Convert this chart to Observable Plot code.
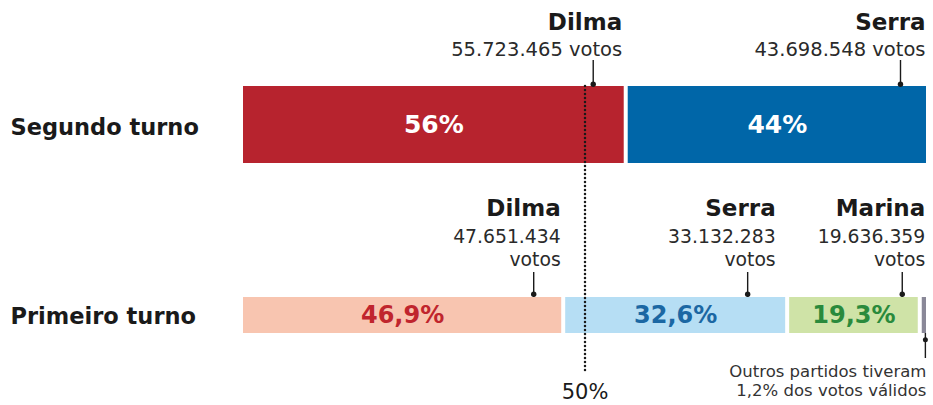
<!DOCTYPE html>
<html><head><meta charset="utf-8">
<script src="https://cdn.jsdelivr.net/npm/d3@7"></script>
<script src="https://cdn.jsdelivr.net/npm/@observablehq/plot@0.6"></script>
<style>body{margin:0;background:#fff} #chart svg{display:block;background:#fff}</style>
</head><body><div id="chart"></div>
<script>
// ---- data ----
const turnos = ["Segundo turno", "Primeiro turno"];
const candidatos2 = ["Dilma", "Serra"];
const percentual2 = [56, 44];
const rotulos2 = ["56%", "44%"];
const votos2 = ["55.723.465 votos", "43.698.548 votos"];
const candidatos1 = ["Dilma", "Serra", "Marina", "Outros"];
const percentual1 = [46.9, 32.6, 19.3, 1.2];
const rotulos1 = ["46,9%", "32,6%", "19,3%", ""];
const votos1 = ["47.651.434\nvotos", "33.132.283\nvotos", "19.636.359\nvotos", ""];
const referencia = [50];
const rotuloReferencia = "50%";
const notaOutros = "Outros partidos tiveram\n1,2% dos votos válidos";

// ---- build stacked rows ----
function build(turno, cands, pcts, labels, votos) {
  let acc = 0;
  return cands.map((c, i) => {
    const r = {turno, cand: c, pct: pcts[i], label: labels[i], votos: votos[i], x1: acc, x2: acc + pcts[i]};
    r.mid = (r.x1 + r.x2) / 2;
    acc += pcts[i];
    return r;
  });
}
const seg = build(turnos[0], candidatos2, percentual2, rotulos2, votos2);
const pri = build(turnos[1], candidatos1, percentual1, rotulos1, votos1);

// ---- styles ----
const fill2 = ["#b7232e", "#0066a8"];
const fill1 = ["#f8c5b0", "#b6def4", "#cfe3a7", "#8a8898"];
const txt1 = ["#c0252d", "#1b67a3", "#2a8a3c", "#000"];
const nameFont = "DejaVu Sans, sans-serif";
const numFont = "DejaVu Sans, sans-serif";
// label right-edge offsets and leader offsets (px from segment end)
const off2 = [{lab: -4, lead: -33}, {lab: -3, lead: -28}];
const off1 = [{lab: -3, lead: -30}, {lab: -12, lead: -40}, {lab: 5, lead: -18}];

const marks = [];
// bars
marks.push(Plot.barX(seg, {x1: "x1", x2: "x2", y: "turno", fill: (d, i) => fill2[i], insetLeft: 2, insetRight: 2, insetBottom: 46.5}));
marks.push(Plot.barX(pri, {x1: "x1", x2: "x2", y: "turno", fill: (d, i) => fill1[i], insetLeft: 2, insetRight: 2, insetTop: 87.5}));
// 50% reference
marks.push(Plot.ruleX(referencia, {x: d => d, stroke: "#1a1a1a", strokeWidth: 2.5, strokeDasharray: "0,4", strokeLinecap: "round"}));
marks.push(Plot.text([rotuloReferencia], {x: referencia[0], frameAnchor: "bottom", text: d => d, lineAnchor: "bottom", dy: 25, fontSize: 21, fontFamily: numFont, fill: "#1a1a1a"}));
// percent labels
marks.push(Plot.text(seg, {x: "mid", y: "turno", text: "label", dy: -23, fill: "#fff", fontSize: 25, fontWeight: "bold", fontFamily: nameFont}));
marks.push(Plot.text(pri, {x: "mid", y: "turno", text: "label", dy: 44, fill: (d, i) => txt1[i], fontSize: 24, fontWeight: "bold", fontFamily: nameFont}));
// left turno labels
marks.push(Plot.text([turnos[0]], {frameAnchor: "left", y: d => d, text: d => d, textAnchor: "start", dx: 10, dy: -20, fontSize: 22.5, fontWeight: "bold", fontFamily: nameFont, fill: "#1a1a1a"}));
marks.push(Plot.text([turnos[1]], {frameAnchor: "left", y: d => d, text: d => d, textAnchor: "start", dx: 10, dy: 45, fontSize: 22.5, fontWeight: "bold", fontFamily: nameFont, fill: "#1a1a1a"}));

// segundo turno names, votes, leaders
seg.forEach((d, i) => {
  const o = off2[i];
  marks.push(Plot.text([d], {x: "x2", y: "turno", text: "cand", textAnchor: "end", lineAnchor: "bottom", dx: o.lab, dy: -118.75, fontSize: 23, fontWeight: "bold", fontFamily: nameFont, fill: "#1a1a1a"}));
  marks.push(Plot.text([d], {x: "x2", y: "turno", text: "votos", textAnchor: "end", lineAnchor: "bottom", dx: o.lab, dy: -92.75, fontSize: 19.5, fontFamily: numFont, fill: "#2a2a2a"}));
  marks.push(Plot.ruleX([d], {x: "x2", y1: "turno", y2: "turno", dx: o.lead, insetTop: -26, insetBottom: 123.5, stroke: "#1a1a1a", strokeWidth: 1.4}));
  marks.push(Plot.dot([d], {x: "x2", y: "turno", dx: o.lead, dy: -64, r: 2.7, fill: "#1a1a1a", stroke: "none"}));
});
// primeiro turno names, votes, leaders
pri.slice(0, 3).forEach((d, i) => {
  const o = off1[i];
  marks.push(Plot.text([d], {x: "x2", y: "turno", text: "cand", textAnchor: "end", lineAnchor: "bottom", dx: o.lab, dy: -56.25, fontSize: 23, fontWeight: "bold", fontFamily: nameFont, fill: "#1a1a1a"}));
  marks.push(Plot.text([d], {x: "x2", y: "turno", text: "votos", textAnchor: "end", lineAnchor: "bottom", lineHeight: 1.18, dx: o.lab, dy: -6.25, fontSize: 18.8, fontFamily: numFont, fill: "#2a2a2a"}));
  marks.push(Plot.ruleX([d], {x: "x2", y1: "turno", y2: "turno", dx: o.lead, insetTop: 62.5, insetBottom: 36, stroke: "#1a1a1a", strokeWidth: 1.4}));
  marks.push(Plot.dot([d], {x: "x2", y: "turno", dx: o.lead, dy: 22.5, r: 2.7, fill: "#1a1a1a", stroke: "none"}));
});
// outros
const outros = pri[3];
marks.push(Plot.ruleX([outros], {x: "mid", y1: "turno", y2: "turno", dx: 1, insetTop: 123.5, insetBottom: -25, stroke: "#1a1a1a", strokeWidth: 1.4}));
marks.push(Plot.dot([outros], {x: "mid", y: "turno", dx: 1, dy: 68, r: 2.5, fill: "#1a1a1a", stroke: "none"}));
marks.push(Plot.text([notaOutros], {x: outros.mid, y: () => turnos[1], text: d => d, textAnchor: "end", lineAnchor: "bottom", lineHeight: 1.18, dx: 2, dy: 124.5, fontSize: 16.5, fontFamily: numFont, fill: "#333"}));

const chart = Plot.plot({
  width: 933, height: 405,
  marginTop: 86, marginBottom: 32, marginLeft: 0, marginRight: 0,
  style: {background: "#fff", overflow: "visible"},
  x: {domain: [0, 100], range: [241, 928], axis: null},
  y: {domain: turnos, range: [86, 333], padding: 0, round: false, axis: null},
  marks
});
document.getElementById("chart").appendChild(chart);
</script>
</body></html>
